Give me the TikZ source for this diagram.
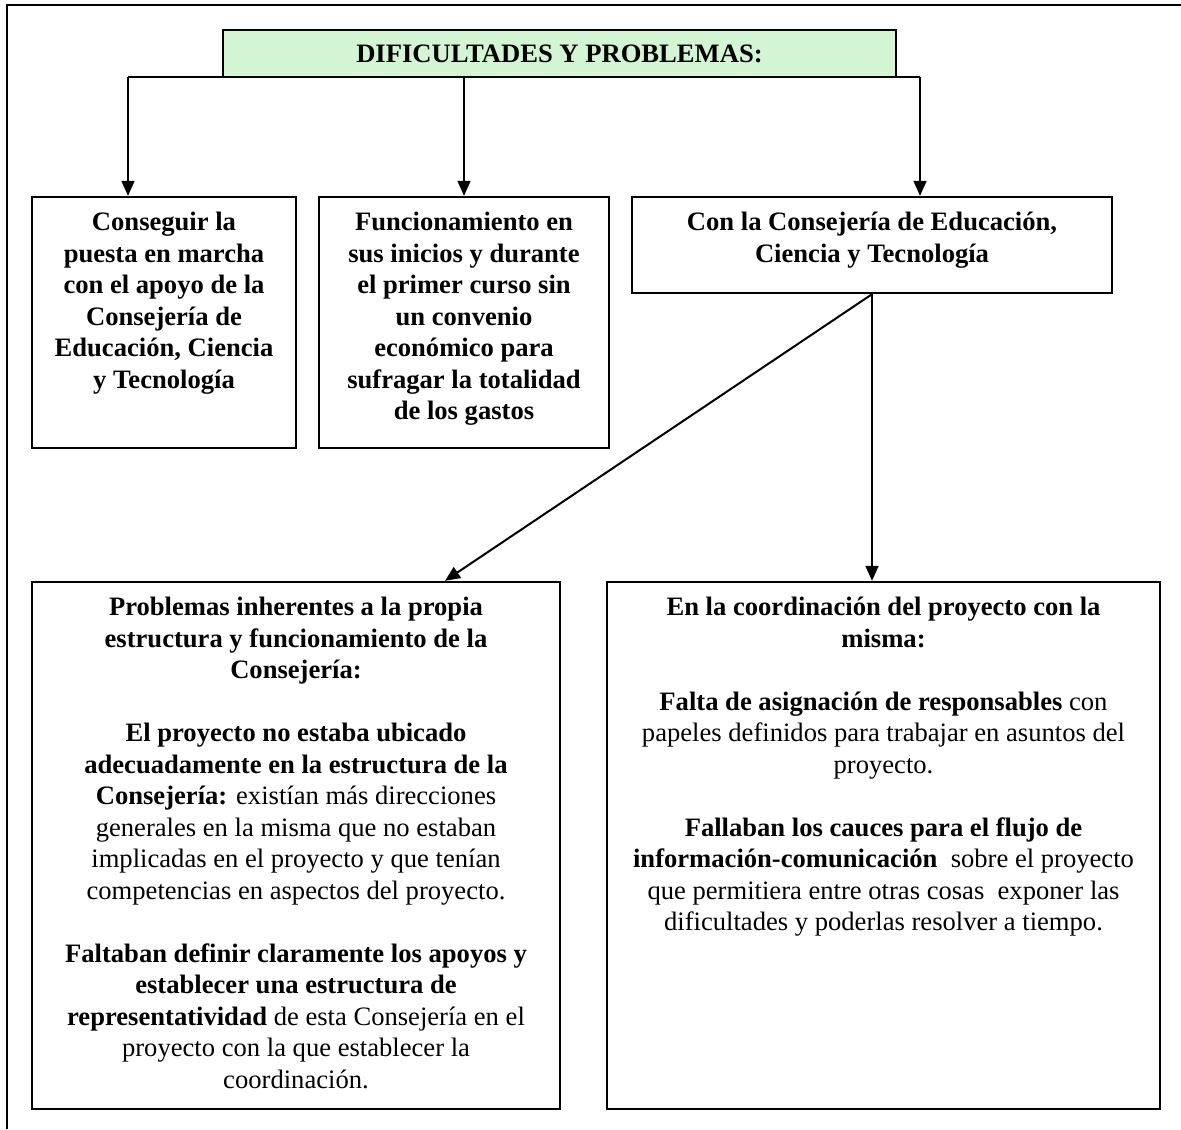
\documentclass[tikz,border=0pt]{standalone}
\usepackage{fontspec}
\setmainfont{Liberation Serif}
\usetikzlibrary{arrows.meta, positioning, calc}
\definecolor{titlegreen}{RGB}{212,245,212}
\tikzset{
    frame/.style={line width=1.2pt},
    titlebox/.style={rectangle, draw, line width=1.2pt, fill=titlegreen, minimum width=336.5pt, minimum height=23.5pt, font=\fontsize{13.3}{15.75}\selectfont\bfseries},
    box/.style={rectangle, draw, line width=1.2pt},
    boxtext/.style={inner sep=0pt, align=center, font=\fontsize{13.3}{15.75}\selectfont},
    boldtext/.style={boxtext, font=\fontsize{13.3}{15.75}\selectfont\bfseries},
    arrow/.style={line width=1pt, -{Triangle[length=7.5pt, width=6.5pt]}}
}

\begin{document}
\begin{tikzpicture}[x=0.5pt, y=-0.5pt]
    \useasboundingbox (0,0) rectangle (1181,1129);
    \draw[frame] (7,1129) -- (7,5) -- (1181,5);
    \node[titlebox] (title) at (559.5,53.5) {DIFICULTADES Y PROBLEMAS:};
    \node[box, minimum width=132pt, minimum height=125.5pt] (b1) at (164,322.5) {};
    \node[box, minimum width=145pt, minimum height=125.5pt] (b2) at (464,322.5) {};
    \node[box, minimum width=240pt, minimum height=48pt] (b3) at (872,245) {};
    \node[box, minimum width=264pt, minimum height=263.5pt] (b4) at (296,845.5) {};
    \node[box, minimum width=276.5pt, minimum height=263.5pt] (b5) at (883.5,845.5) {};
    \node[boldtext, below=8pt of b1.north] (t1) {Conseguir la\\puesta en marcha\\con el apoyo de la\\Consejería de\\Educación, Ciencia\\y Tecnología};
    \node[boldtext, below=8pt of b2.north] (t2) {Funcionamiento en\\sus inicios y durante\\el primer curso sin\\un convenio\\económico para\\sufragar la totalidad\\de los gastos};
    \node[boldtext, below=8pt of b3.north] (t3) {Con la Consejería de Educación,\\Ciencia y Tecnología};
    \node[boxtext, below=8pt of b4.north] (t4) {\textbf{Problemas inherentes a la propia}\\
        \textbf{estructura y funcionamiento de la}\\
        \textbf{Consejería:}\\[15.75pt]
        \textbf{El proyecto no estaba ubicado}\\
        \textbf{adecuadamente en la estructura de la}\\
        \textbf{Consejería:} existían más direcciones\\
        generales en la misma que no estaban\\
        implicadas en el proyecto y que tenían\\
        competencias en aspectos del proyecto.\\[15.75pt]
        \textbf{Faltaban definir claramente los apoyos y}\\
        \textbf{establecer una estructura de}\\
        \textbf{representatividad} de esta Consejería en el\\
        proyecto con la que establecer la\\
        coordinación.};
    \node[boxtext, below=8pt of b5.north] (t5) {\textbf{En la coordinación del proyecto con la}\\
        \textbf{misma:}\\[15.75pt]
        \textbf{Falta de asignación de responsables} con\\
        papeles definidos para trabajar en asuntos del\\
        proyecto.\\[15.75pt]
        \textbf{Fallaban los cauces para el flujo de}\\
        \textbf{información-comunicación}\ \ sobre el proyecto\\
        que permitiera entre otras cosas\ \ exponer las\\
        dificultades y poderlas resolver a tiempo.};
    % branches from the title
    \coordinate (jl) at (128,77);
    \coordinate (jr) at (920,77);
    \draw[line width=1pt] (jl) -- (jr);
    \draw[arrow] (jl) -- (jl |- b1.north);
    \draw[arrow] (b2.north |- jl) -- (b2.north);
    \draw[arrow] (jr) -- (jr |- b3.north);
    \draw[arrow] (b3.south) -- ([xshift=74.5pt]b4.north);
    \draw[arrow] (b3.south) -- (b3.south |- b5.north);
\end{tikzpicture}
\end{document}
